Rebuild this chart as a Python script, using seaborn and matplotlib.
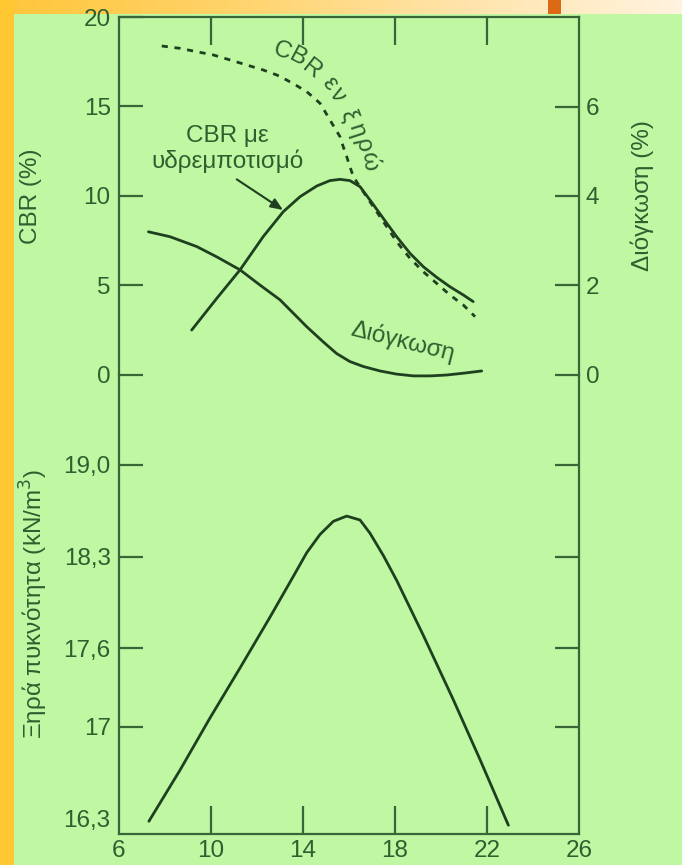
import numpy as np
import pandas as pd
import matplotlib
matplotlib.use("Agg")
import matplotlib.pyplot as plt
from matplotlib.patches import Rectangle
from matplotlib.colors import LinearSegmentedColormap
import seaborn as sns

# ---------------- data ----------------
# CBR in dry condition (dotted)
dry_w   = [7.86, 8.65, 9.38, 10.10, 10.83, 11.55, 12.27, 12.86, 13.29, 13.73, 14.16, 14.45, 14.74, 14.96,
           15.17, 15.39, 15.61, 15.75, 15.90, 16.04, 16.19, 16.33, 16.91, 17.49, 18.07, 18.65, 19.23,
           19.81, 20.39, 20.97, 21.48]
dry_cbr = [18.38, 18.25, 18.06, 17.88, 17.60, 17.32, 17.04, 16.76, 16.48, 16.16, 15.83, 15.51, 15.18, 14.71,
           14.25, 13.78, 13.31, 12.75, 12.20, 11.64, 11.08, 10.80, 9.68, 8.57, 7.45, 6.52, 5.77,
           5.12, 4.47, 3.91, 3.26]
# CBR after soaking (solid)
soak_w   = [9.16, 10.25, 11.26, 12.27, 13.14, 13.87, 14.60, 15.17, 15.61, 16.04, 16.48, 16.91, 17.49,
            18.07, 18.65, 19.23, 19.81, 20.39, 20.97, 21.40]
soak_cbr = [2.51, 4.28, 5.87, 7.73, 9.12, 9.96, 10.56, 10.86, 10.93, 10.86, 10.52, 9.78, 8.75,
            7.73, 6.80, 6.05, 5.46, 4.93, 4.47, 4.10]
# Swelling (%)
swell_w   = [7.28, 8.22, 9.38, 10.25, 11.26, 12.13, 13.00, 13.58, 14.16, 14.88, 15.46, 16.04, 16.62,
             17.35, 18.07, 18.80, 19.52, 20.25, 20.97, 21.77]
swell_pct = [3.20, 3.09, 2.87, 2.64, 2.35, 2.01, 1.68, 1.38, 1.08, 0.74, 0.48, 0.30, 0.19,
             0.09, 0.02, -0.02, -0.02, 0.00, 0.04, 0.09]
# Dry density (kN/m3)
dens_w = [7.30, 8.65, 9.96, 11.26, 12.57, 13.58, 14.16, 14.74, 15.32, 15.90, 16.48, 16.91, 17.49,
          18.07, 19.23, 20.53, 21.70, 22.93]
dens_y = [16.28, 16.67, 17.07, 17.45, 17.84, 18.15, 18.33, 18.47, 18.57, 18.61, 18.58, 18.48, 18.31,
          18.12, 17.70, 17.21, 16.75, 16.25]

x_ticks = [6, 10, 14, 18, 22, 26]
cbr_ticks = [0, 5, 10, 15, 20]
swell_ticks = [0, 2, 4, 6]
dens_ticks = [16.3, 17.0, 17.6, 18.3, 19.0]
dens_labels = ["16,3", "17", "17,6", "18,3", "19,0"]

# ---------------- style ----------------
BG = "#bff7a3"
TXT = "#2f5f2f"
LINE = "#1f401f"
FRAME = "#386638"

sns.set_theme(style="white")
plt.rcParams["font.family"] = ["Liberation Sans", "DejaVu Sans"]
plt.rcParams["axes.edgecolor"] = FRAME
plt.rcParams["text.color"] = TXT

W, H = 682, 865
fig = plt.figure(figsize=(W / 100, H / 100), dpi=100, facecolor=BG)

# decorative frame strips
fig.patches.append(Rectangle((0, 0), 14 / W, 1, transform=fig.transFigure,
                             facecolor="#ffc832", edgecolor="none", zorder=0))
strip = fig.add_axes([0, 1 - 14 / H, 1, 14 / H], zorder=0)
cmap = LinearSegmentedColormap.from_list("s", ["#ffc63a", "#ffd36a", "#ffe3a8", "#fff3df"])
strip.imshow(np.linspace(0, 1, 256)[None, :], aspect="auto", cmap=cmap, extent=[0, 1, 0, 1])
strip.add_patch(Rectangle((548 / W, 0), 13 / W, 1, facecolor="#dc6a14", edgecolor="none"))
strip.set_xlim(0, 1); strip.set_ylim(0, 1)
strip.axis("off")

left = 119 / W
width = (579 - 119) / W
top_ax = fig.add_axes([left, 1 - 375 / H, width, (375 - 17) / H])
bot_ax = fig.add_axes([left, 1 - 834 / H, width, (834 - 375) / H])
for a in (top_ax, bot_ax):
    a.set_facecolor("none")
    for s in a.spines.values():
        s.set_linewidth(1.6)
        s.set_color(FRAME)

FS = 17.5
LW = 2.0

# ---------- top panel ----------
df_dry = pd.DataFrame({"w": dry_w, "cbr": dry_cbr})
df_soak = pd.DataFrame({"w": soak_w, "cbr": soak_cbr})
sns.lineplot(data=df_dry, x="w", y="cbr", ax=top_ax, color=LINE, lw=LW,
             linestyle=(0, (2.2, 2.4)))
sns.lineplot(data=df_soak, x="w", y="cbr", ax=top_ax, color=LINE, lw=LW)
top_ax.set_xlim(6, 26)
top_ax.set_ylim(0, 20)
top_ax.spines["bottom"].set_visible(False)
top_ax.set_xticks([10, 14, 18, 22])
top_ax.tick_params(axis="x", which="both", bottom=False, top=True, labelbottom=False,
                   direction="in", length=20, width=1.6, color=FRAME)
top_ax.set_yticks(cbr_ticks)
top_ax.set_yticklabels([str(t) for t in cbr_ticks])
top_ax.tick_params(axis="y", left=True, direction="in", length=17, width=1.6,
                   color=FRAME, labelsize=FS, labelcolor=TXT, pad=6)
top_ax.set_xlabel("")
top_ax.set_ylabel("CBR (%)", fontsize=FS, color=TXT, labelpad=30)

tw = top_ax.twinx()
tw.set_facecolor("none")
df_sw = pd.DataFrame({"w": swell_w, "s": swell_pct})
sns.lineplot(data=df_sw, x="w", y="s", ax=tw, color=LINE, lw=LW, clip_on=False)
tw.set_ylim(0, 8)
tw.set_xlim(6, 26)
for s in tw.spines.values():
    s.set_visible(False)
tw.set_yticks(swell_ticks)
tw.tick_params(axis="y", right=True, direction="in", length=17, width=1.6,
               color=FRAME, labelsize=FS, labelcolor=TXT, pad=5)
tw.set_ylabel("Διόγκωση (%)", fontsize=FS, color=TXT, labelpad=22)
tw.set_xlabel("")

# annotations
top_ax.text(10.72, 12.63, "CBR με\nυδρεμποτισμό", ha="center", va="center",
            fontsize=FS, color=TXT, linespacing=1.15)
top_ax.annotate("", xy=(13.13, 9.22), xytext=(11.12, 10.93),
                arrowprops=dict(arrowstyle="-|>,head_length=0.6,head_width=0.25",
                                color=LINE, lw=1.5, shrinkA=0, shrinkB=0))
chars = ["C", "B", "R", "ε", "ν", "ξ", "η", "ρ", "ώ"]
cx = [13.10, 13.76, 14.38, 15.12, 15.48, 15.98, 16.30, 16.58, 16.88]
cy = [18.10, 17.72, 17.08, 16.30, 15.65, 14.42, 13.62, 12.85, 11.90]
cr = [-20, -28, -38, -52, -58, -68, -72, -78, -84]
for c, x, y, r in zip(chars, cx, cy, cr):
    top_ax.text(x, y, c, ha="center", va="center", rotation=r, fontsize=FS,
                color=TXT, rotation_mode="anchor")
top_ax.text(18.35, 1.85, "Διόγκωση", ha="center", va="center", rotation=-14,
            fontsize=FS, color=TXT, rotation_mode="anchor")

# ---------- bottom panel ----------
df_d = pd.DataFrame({"w": dens_w, "d": dens_y})
sns.lineplot(data=df_d, x="w", y="d", ax=bot_ax, color=LINE, lw=LW)
bot_ax.set_xlim(6, 26)
bot_ax.set_ylim(16.183, 19.687)
bot_ax.spines["top"].set_visible(False)
bot_ax.set_xticks(x_ticks)
bot_ax.set_xticklabels([str(t) for t in x_ticks])
bot_ax.tick_params(axis="x", bottom=True, direction="in", length=20, width=1.6,
                   color=FRAME, labelsize=FS, labelcolor=TXT, pad=4)
bot_ax.set_yticks(dens_ticks)
bot_ax.set_yticklabels(dens_labels)
bot_ax.tick_params(axis="y", left=True, right=True, direction="in", length=17,
                   width=1.6, color=FRAME, labelsize=FS, labelcolor=TXT, pad=6)
t0 = bot_ax.yaxis.get_major_ticks()[0]
t0.tick1line.set_visible(False)
t0.tick2line.set_visible(False)
for i, t in enumerate(bot_ax.xaxis.get_major_ticks()):
    if i in (0, len(x_ticks) - 1):
        t.tick1line.set_visible(False)
bot_ax.set_xlabel("")
bot_ax.set_ylabel("Ξηρά πυκνότητα (kN/m$^3$)", fontsize=FS, color=TXT, labelpad=10)

fig.savefig("out.png", dpi=100, facecolor=BG)
